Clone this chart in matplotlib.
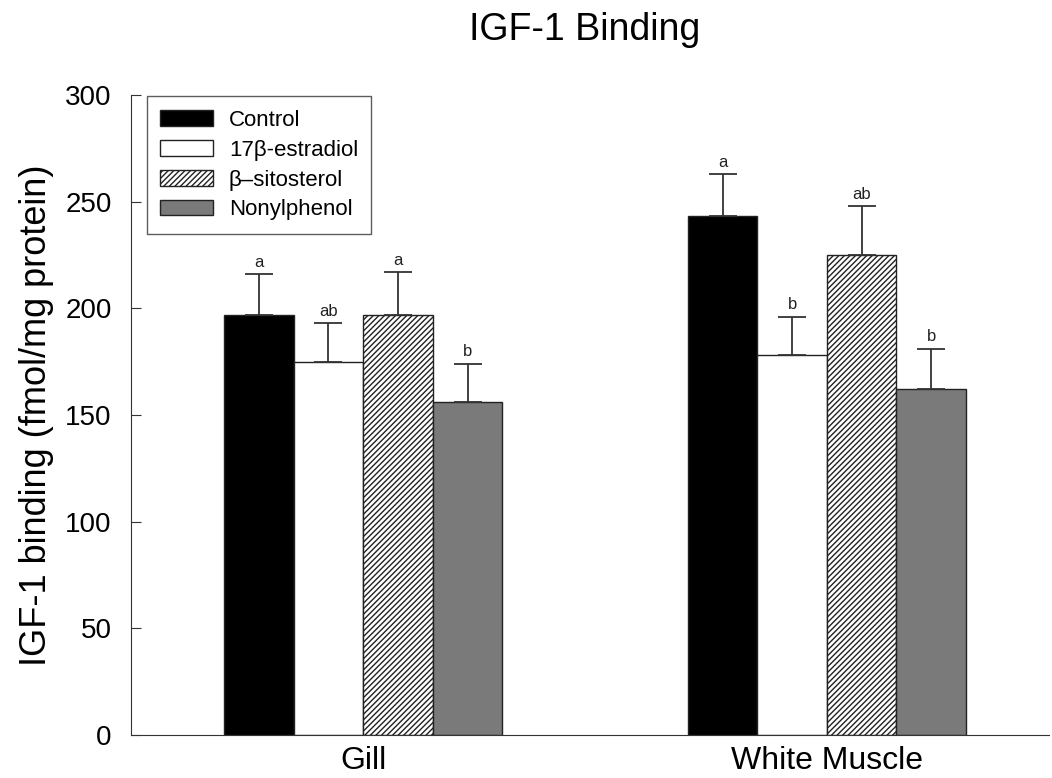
import numpy as np
import matplotlib.pyplot as plt
from matplotlib.patches import Patch

plt.rcParams['font.family'] = ['Liberation Sans', 'DejaVu Sans']
plt.rcParams['hatch.linewidth'] = 1.0

tissues = ['Gill', 'White Muscle']
treatments = ['Control', '17\u03b2-estradiol', '\u03b2\u2013sitosterol', 'Nonylphenol']
means = {
    'Control': [197, 243],
    '17\u03b2-estradiol': [175, 178],
    '\u03b2\u2013sitosterol': [197, 225],
    'Nonylphenol': [156, 162],
}
errors = {
    'Control': [19, 20],
    '17\u03b2-estradiol': [18, 18],
    '\u03b2\u2013sitosterol': [20, 23],
    'Nonylphenol': [18, 19],
}
letters = {
    'Control': ['a', 'a'],
    '17\u03b2-estradiol': ['ab', 'b'],
    '\u03b2\u2013sitosterol': ['a', 'ab'],
    'Nonylphenol': ['b', 'b'],
}

colors = ['black', 'white', 'white', '#7a7a7a']
hatches = [None, None, '//////', None]

fig = plt.figure(figsize=(10.52, 7.78), dpi=100)
ax = fig.add_axes([0.1245, 0.0555, 0.873, 0.8225])

x = np.arange(len(tissues))
w = 0.15
for i, t in enumerate(treatments):
    pos = x + (i - 1.5) * w
    ax.bar(pos, means[t], width=w, color=colors[i], edgecolor='#222222',
           linewidth=1.0, hatch=hatches[i], zorder=2)
    ax.errorbar(pos, means[t], yerr=[np.zeros(2), errors[t]], fmt='none',
                ecolor='#333333', elinewidth=1.3, capsize=10, capthick=1.3, zorder=3)
    for p, m, e, lab in zip(pos, means[t], errors[t], letters[t]):
        ax.text(p, m + e + 2, lab, ha='center', va='bottom', fontsize=12, color='#222222')

ax.set_xlim(-0.501, 1.48)
ax.set_ylim(0, 300)
ax.set_yticks(np.arange(0, 301, 50))
ax.set_xticks(x)
ax.set_xticklabels(tissues, fontsize=23)
ax.tick_params(axis='y', direction='in', length=7, labelsize=20, pad=14, color='#333333')
ax.tick_params(axis='x', length=0, pad=8)
ax.spines['top'].set_visible(False)
ax.spines['right'].set_visible(False)
ax.spines['left'].set_color('#333333')
ax.spines['bottom'].set_color('#333333')
ax.set_ylabel('IGF-1 binding (fmol/mg protein)', fontsize=26, labelpad=8)
fig.suptitle('IGF-1 Binding', fontsize=27, x=0.556, y=0.985)

handles = [Patch(facecolor=colors[i], edgecolor='#222222', hatch=hatches[i], label=t)
           for i, t in enumerate(treatments)]
leg = ax.legend(handles=handles, loc='upper left', bbox_to_anchor=(0.005, 1.015),
                fontsize=16, frameon=True, fancybox=False, edgecolor='#333333',
                handlelength=2.4, handleheight=0.7, handletextpad=0.7,
                borderpad=0.6, labelspacing=0.4)
leg.get_frame().set_linewidth(1.0)

fig.savefig('out.png', dpi=100)
